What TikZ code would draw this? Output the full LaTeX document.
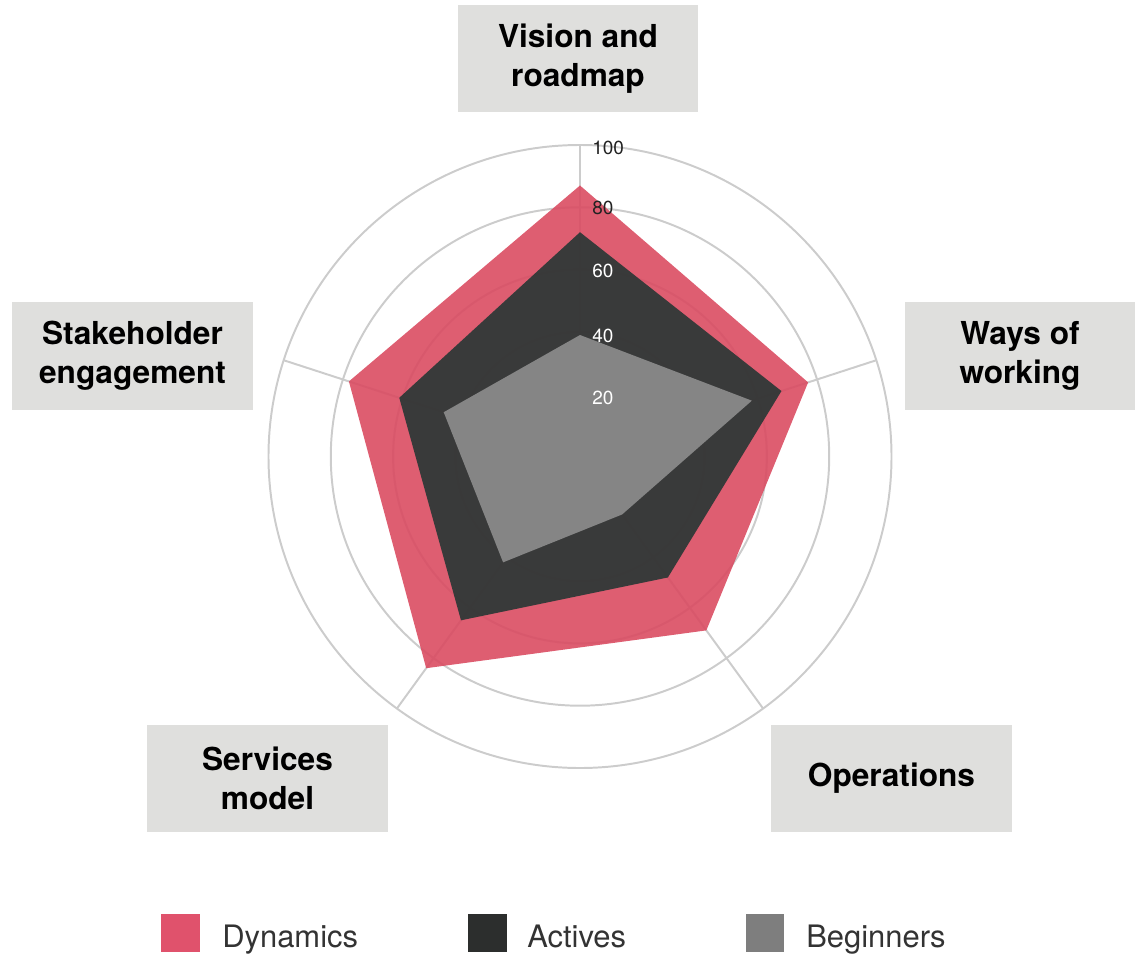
\documentclass[tikz,border=0pt]{standalone}
\usepackage{fontspec}
\setmainfont{TeX Gyre Heros}
\definecolor{GridGray}{RGB}{204,204,204}
\definecolor{BoxGray}{RGB}{223,223,221}
\definecolor{DynRed}{RGB}{218,76,98}
\definecolor{ActDark}{RGB}{52,57,56}
\definecolor{BegGray}{RGB}{138,138,138}
\definecolor{KeyRed}{RGB}{224,82,108}
\definecolor{KeyDark}{RGB}{44,46,45}
\definecolor{KeyGray}{RGB}{126,126,126}
\definecolor{KeyText}{RGB}{51,51,51}
\definecolor{TickDark}{RGB}{34,34,34}
\tikzstyle{category} = [rectangle, fill=BoxGray, minimum width=6cm, minimum height=2.675cm, text centered, align=center, font=\fontsize{22.5}{28}\selectfont\bfseries, text=black]
\tikzstyle{grid} = [draw=GridGray, line width=1.4pt]
\tikzstyle{tick} = [inner sep=0, anchor=west, font=\fontsize{13.5}{15}\selectfont]
\tikzstyle{swatch} = [rectangle, minimum size=0.95cm, inner sep=0]
\tikzstyle{keytext} = [inner sep=0, anchor=base west, text=KeyText, font=\fontsize{22}{26}\selectfont]
\def\rs{3.115}

\begin{document}
\begin{tikzpicture}[x=0.025cm, y=0.025cm]

\useasboundingbox (-580,-497.5) rectangle (555,456.5);

% Grille
\foreach \v in {20,40,60,80,100}
  \draw[grid] (0,0) circle [radius={\v*\rs}];
\coordinate (o) at (0,0);
\coordinate (axtop) at (90:{100*\rs});
\coordinate (axright) at (18:{100*\rs});
\coordinate (axlowr) at (-54:{100*\rs});
\coordinate (axlowl) at (-126:{100*\rs});
\coordinate (axleft) at (162:{100*\rs});
\draw[grid] (o) -- (axtop);
\draw[grid] (o) -- (axright);
\draw[grid] (o) -- (axlowr);
\draw[grid] (o) -- (axlowl);
\draw[grid] (o) -- (axleft);

% Dynamics
\coordinate (dyn1) at (90:{87*\rs});
\coordinate (dyn2) at (18:{77*\rs});
\coordinate (dyn3) at (-54:{69*\rs});
\coordinate (dyn4) at (-126:{84*\rs});
\coordinate (dyn5) at (162:{78*\rs});
\fill[DynRed, opacity=0.9] (dyn1) -- (dyn2) -- (dyn3) -- (dyn4) -- (dyn5) -- cycle;

% Actives
\coordinate (act1) at (90:{72*\rs});
\coordinate (act2) at (18:{68*\rs});
\coordinate (act3) at (-54:{48*\rs});
\coordinate (act4) at (-126:{65*\rs});
\coordinate (act5) at (162:{61*\rs});
\fill[ActDark, opacity=0.97] (act1) -- (act2) -- (act3) -- (act4) -- (act5) -- cycle;

% Beginners
\coordinate (beg1) at (90:{39*\rs});
\coordinate (beg2) at (18:{58*\rs});
\coordinate (beg3) at (-54:{23*\rs});
\coordinate (beg4) at (-126:{42*\rs});
\coordinate (beg5) at (162:{46*\rs});
\fill[BegGray, opacity=0.95] (beg1) -- (beg2) -- (beg3) -- (beg4) -- (beg5) -- cycle;

% Graduations
\node (t100) [tick, text=TickDark] at (12,309) {100};
\node (t80) [tick, text=TickDark] at (12,249) {80};
\node (t60) [tick, text=white] at (12,185.5) {60};
\node (t40) [tick, text=white] at (12,120.5) {40};
\node (t20) [tick, text=white] at (12,59) {20};

% Axes
\node (vision) [category] at (-2,398) {Vision and\\roadmap};
\node (ways) [category, minimum width=5.75cm] at (440,100.5) {Ways of\\working};
\node (ops) [category] at (311.5,-322) {Operations};
\node (services) [category] at (-312.5,-322) {Services\\model};
\node (stake) [category] at (-447.5,100.5) {Stakeholder\\engagement};

% Légende
\node (keydyn) [swatch, fill=KeyRed] at (-399.5,-476.5) {};
\node (keydyntxt) [keytext] at (-358,-490.5) {Dynamics};
\node (keyact) [swatch, fill=KeyDark] at (-92.5,-476.5) {};
\node (keyacttxt) [keytext] at (-53,-490.5) {Actives};
\node (keybeg) [swatch, fill=KeyGray] at (184.5,-476.5) {};
\node (keybegtxt) [keytext] at (226,-490.5) {Beginners};

\end{tikzpicture}
\end{document}
